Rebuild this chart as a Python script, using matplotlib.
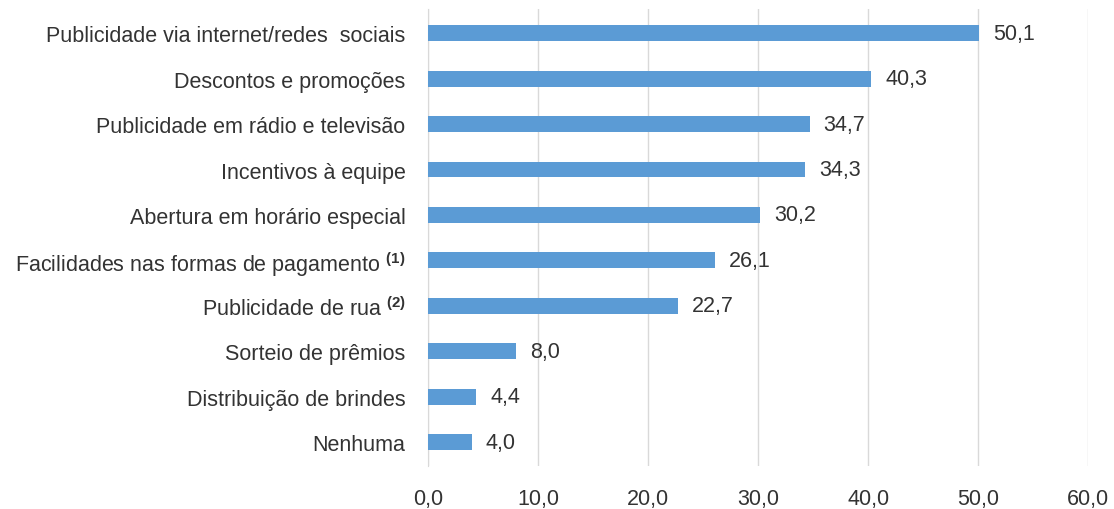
import matplotlib.pyplot as plt
import numpy as np

categories = [
    'Publicidade via internet/redes  sociais',
    'Descontos e promoções',
    'Publicidade em rádio e televisão',
    'Incentivos à equipe',
    'Abertura em horário especial',
    r'Facilidades nas formas de pagamento $^{\mathbf{(1)}}$',
    r'Publicidade de rua $^{\mathbf{(2)}}$',
    'Sorteio de prêmios',
    'Distribuição de brindes',
    'Nenhuma',
]
values = [50.1, 40.3, 34.7, 34.3, 30.2, 26.1, 22.7, 8.0, 4.4, 4.0]
xticks = [0, 10, 20, 30, 40, 50, 60]

plt.rcParams['font.family'] = ['Liberation Sans', 'DejaVu Sans']
plt.rcParams['mathtext.fontset'] = 'custom'
plt.rcParams['mathtext.rm'] = 'Liberation Sans'
plt.rcParams['mathtext.bf'] = 'Liberation Sans:bold'

text_color = '#333333'
fs = 15.5

fig = plt.figure(figsize=(11.14, 5.1), dpi=100)
ax = fig.add_axes([0.384, 0.084, 0.593, 0.896])

y_pos = np.arange(len(categories))
bars = ax.barh(y_pos, values, height=0.35, color='#5B9BD5', zorder=3)

# labels with comma decimal
for b, v in zip(bars, values):
    ax.annotate(f'{v:.1f}'.replace('.', ','),
                (b.get_width(), b.get_y() + b.get_height() / 2),
                xytext=(10, 0), textcoords='offset points',
                va='center', ha='left', fontsize=fs, color=text_color)

ax.set_yticks(y_pos)
ax.set_yticklabels(categories, fontsize=fs, color=text_color)
ax.set_ylim(len(categories) - 0.47, -0.53)

ax.set_xlim(0, 60)
ax.set_xticks(xticks)
ax.set_xticklabels([f'{t:.1f}'.replace('.', ',') for t in xticks],
                   fontsize=fs, color=text_color)

ax.grid(axis='x', color='#d9d9d9', linewidth=1, zorder=0)
for s in ['top', 'right', 'bottom']:
    ax.spines[s].set_visible(False)
ax.spines['left'].set_color('#d9d9d9')
ax.tick_params(axis='both', length=0)
ax.tick_params(axis='x', pad=16)
ax.tick_params(axis='y', pad=16)

fig.savefig('out.png', dpi=100)
